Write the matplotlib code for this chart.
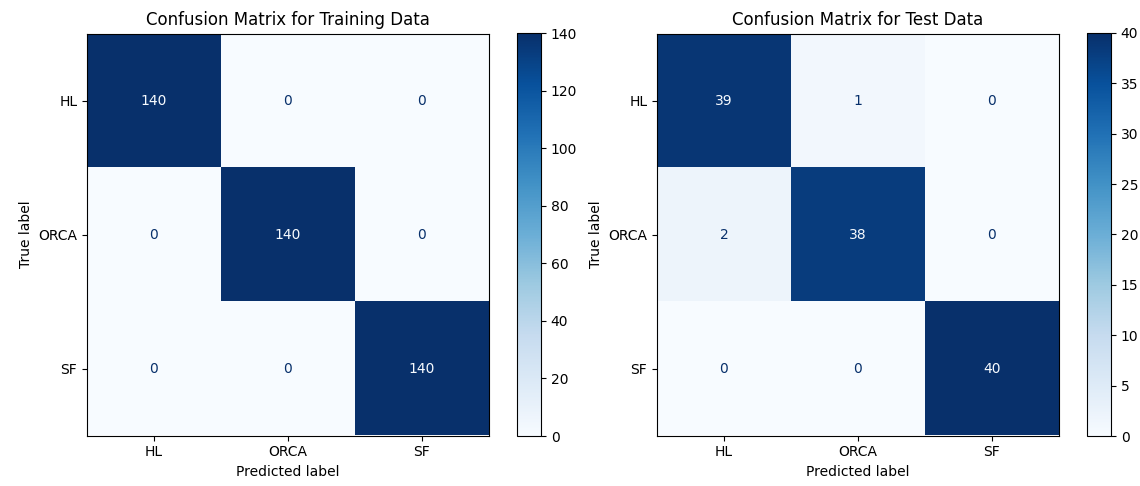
import matplotlib
matplotlib.use("Agg")
import matplotlib.pyplot as plt
import numpy as np

labels = ["HL", "ORCA", "SF"]
train_cm = [[140, 0, 0],
            [0, 140, 0],
            [0, 0, 140]]
test_cm = [[39, 1, 0],
           [2, 38, 0],
           [0, 0, 40]]
titles = ["Confusion Matrix for Training Data", "Confusion Matrix for Test Data"]

fig = plt.figure(figsize=(11.4, 4.86), dpi=100)
W, H = 1140, 486
ax_boxes = [(87, 33, 489, 436), (657, 33, 1059, 436)]
cb_boxes = [(517, 33, 541, 436), (1087, 33, 1111, 436)]
cmap = plt.get_cmap("Blues")

for cm, title, axb, cbb in zip([train_cm, test_cm], titles, ax_boxes, cb_boxes):
    cm = np.array(cm)
    ax = fig.add_axes([axb[0]/W, 1-axb[3]/H, (axb[2]-axb[0])/W, (axb[3]-axb[1])/H])
    cax = fig.add_axes([cbb[0]/W, 1-cbb[3]/H, (cbb[2]-cbb[0])/W, (cbb[3]-cbb[1])/H])
    im = ax.imshow(cm, interpolation="nearest", cmap=cmap)
    cmin, cmax = im.cmap(0), im.cmap(1.0)
    thresh = (cm.max() + cm.min()) / 2.0
    for i in range(cm.shape[0]):
        for j in range(cm.shape[1]):
            color = cmax if cm[i, j] < thresh else cmin
            ax.text(j, i, format(cm[i, j], "d"), ha="center", va="center", color=color, fontsize=10)
    fig.colorbar(im, cax=cax)
    ax.set_xticks(range(3), labels=labels)
    ax.set_yticks(range(3), labels=labels)
    ax.set_xlabel("Predicted label")
    ax.set_ylabel("True label")
    ax.set_title(title, fontsize=12)

fig.savefig("out.png", dpi=100)
